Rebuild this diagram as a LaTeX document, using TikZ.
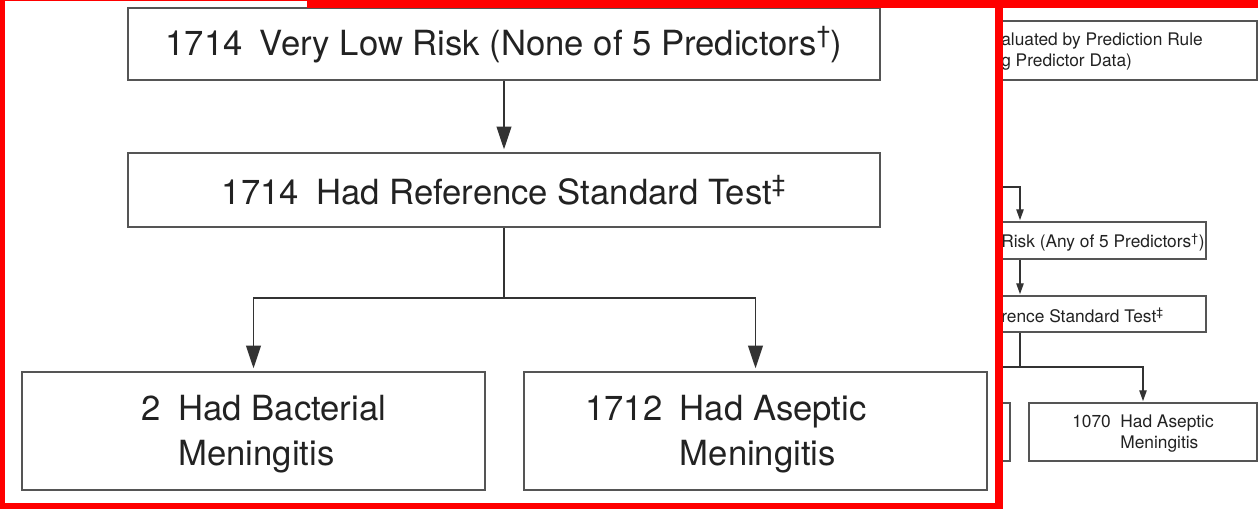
\documentclass[tikz,border=0pt]{standalone}
\usepackage{fontspec}
\setmainfont{TeX Gyre Heros}
\usetikzlibrary{arrows.meta}
\definecolor{boxgray}{HTML}{555555}
\definecolor{txt}{HTML}{222222}
\definecolor{linegray}{HTML}{333333}
\begin{document}
\begin{tikzpicture}[x=0.75pt,y=-0.75pt,
  bigbox/.style={draw=boxgray, line width=1.5pt, inner sep=0pt, text=txt,
    font=\fontsize{26}{34}\selectfont},
  bigtext/.style={inner sep=0pt, text=txt, align=left, font=\fontsize{26}{34}\selectfont},
  smallbox/.style={draw=boxgray, line width=0.8pt, inner sep=0pt},
  smalltext/.style={inner sep=0pt, text=txt, align=left, anchor=west, font=\fontsize{13}{15.75}\selectfont},
  bigline/.style={draw=linegray, line width=1.4pt},
  bigarrow/.style={bigline, -{Triangle[length=17pt,width=11pt]}, shorten >=2pt},
  smallline/.style={draw=linegray, line width=0.8pt},
  smallarrow/.style={smallline, -{Triangle[length=8pt,width=5.5pt]}, shorten >=1pt},
  frame/.style={fill=red, draw=none}]
\useasboundingbox (0,0) rectangle (1258,509);
\fill[white] (0,0) rectangle (1258,509);
% background (small) flowchart
\node[smallbox, minimum width=267.75pt, minimum height=44.25pt] (se) at (1078.5,50.5) {};
\node[smallbox, minimum width=229.5pt, minimum height=27.75pt] (sr) at (1053,240.5) {};
\node[smallbox, minimum width=229.5pt, minimum height=27pt] (sf) at (1053,314) {};
\node[smallbox, minimum width=82.5pt, minimum height=43.5pt] (sb) at (955,432) {};
\node[smallbox, minimum width=171pt, minimum height=43.5pt] (sa) at (1143,432) {};
\coordinate (s0) at (990,187);
\coordinate (s1) at (1020,187);
\coordinate (s2) at (990,367);
\coordinate (s3) at (1020,367);
\draw[smallarrow] (s0) -- (s1) -- (s1 |- sr.north);
\draw[smallarrow] (s1 |- sr.south) -- (s1 |- sf.north);
\draw[smallline] (s1 |- sf.south) -- (s3);
\draw[smallarrow] (s2) -| (sa.north);
\node[smalltext] (te) at (1001,52) {aluated by Prediction Rule\\g Predictor Data)};
\node[smalltext] (tr) at (1001,242.5) {Risk (Any of 5 Predictors\textsuperscript{†})};
\node[smalltext] (tf) at (1001,315) {rence Standard Test\textsuperscript{‡}};
\node[inner sep=0pt, text=txt, align=left, font=\fontsize{13}{15.75}\selectfont] (ta) at (1143,434) {1070\hspace{0.55em}Had Aseptic\\\phantom{1070}\hspace{0.55em}Meningitis};
% white panel
\fill[white] (4.5,1.5) rectangle (995,503);
% enlarged flowchart
\node[bigbox, minimum width=564pt, minimum height=54pt] (b1) at (504,44.5)
  {1714\hspace{0.5em}Very Low Risk (None of 5 Predictors\textsuperscript{†})};
\node[bigbox, minimum width=564pt, minimum height=55.5pt] (b2) at (504,190)
  {1714\hspace{0.5em}Had Reference Standard Test\textsuperscript{‡}};
\node[bigbox, minimum width=347.25pt, minimum height=88.5pt] (b3) at (253.5,431) {};
\node[bigbox, minimum width=347.25pt, minimum height=88.5pt] (b4) at (755.5,431) {};
\node[bigtext] (t3) at (264,434) {2\hspace{0.5em}Had Bacterial\\\phantom{2}\hspace{0.5em}Meningitis};
\node[bigtext] (t4) at (726,434) {1712\hspace{0.5em}Had Aseptic\\\phantom{1712}\hspace{0.5em}Meningitis};
\draw[bigarrow] (b1.south) -- (b2.north);
\coordinate (split) at (504,298);
\draw[bigline] (b2.south) -- (split);
\draw[bigarrow] (split) -| (b3.north);
\draw[bigarrow] (split) -| (b4.north);
% red frame
\fill[frame] (0,0) rectangle (4.5,509);
\fill[frame] (0,503) rectangle (1003,509);
\fill[frame] (995,0) rectangle (1003,509);
\fill[frame] (0,0) rectangle (307,1.5);
\fill[frame] (307,0) rectangle (1258,8);
\end{tikzpicture}
\end{document}
